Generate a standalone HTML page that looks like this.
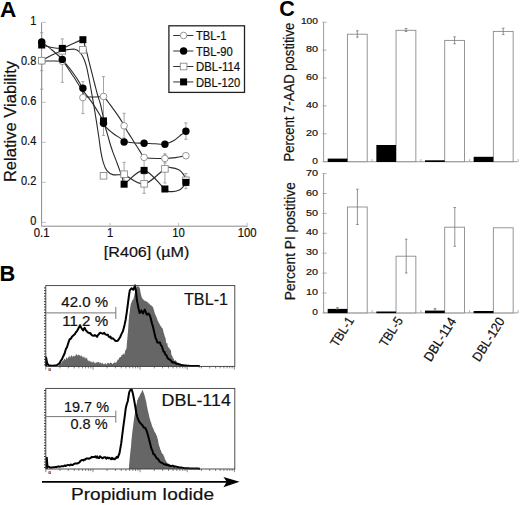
<!DOCTYPE html>
<html><head><meta charset="utf-8"><style>
html,body{margin:0;padding:0;background:#fff;}
svg{display:block;}
text{font-family:"Liberation Sans", sans-serif;fill:#111;stroke:#111;stroke-width:0.2px;}
text[font-weight="bold"]{stroke:none;fill:#000;}
</style></head><body>
<svg width="520" height="505" viewBox="0 0 520 505">
<rect width="520" height="505" fill="#fff"/>
<text x="0.1" y="17.4" font-size="22.6" font-weight="bold">A</text>
<path d="M41.6,22.6 V226.2 H247.6" fill="none" stroke="#8a8a8a" stroke-width="1"/>
<line x1="41.6" y1="222.4" x2="45.9" y2="222.4" stroke="#b0b0b0" stroke-width="0.8"/>
<text x="36.3" y="224.70000000000002" font-size="12" text-anchor="end" textLength="6.12" lengthAdjust="spacingAndGlyphs">0</text>
<line x1="41.6" y1="182.4" x2="45.9" y2="182.4" stroke="#b0b0b0" stroke-width="0.8"/>
<text x="36.3" y="184.70000000000002" font-size="12" text-anchor="end" textLength="15.30" lengthAdjust="spacingAndGlyphs">0.2</text>
<line x1="41.6" y1="142.4" x2="45.9" y2="142.4" stroke="#b0b0b0" stroke-width="0.8"/>
<text x="36.3" y="144.70000000000002" font-size="12" text-anchor="end" textLength="15.30" lengthAdjust="spacingAndGlyphs">0.4</text>
<line x1="41.6" y1="102.4" x2="45.9" y2="102.4" stroke="#b0b0b0" stroke-width="0.8"/>
<text x="36.3" y="104.7" font-size="12" text-anchor="end" textLength="15.30" lengthAdjust="spacingAndGlyphs">0.6</text>
<line x1="41.6" y1="62.400000000000006" x2="45.9" y2="62.400000000000006" stroke="#b0b0b0" stroke-width="0.8"/>
<text x="36.3" y="64.7" font-size="12" text-anchor="end" textLength="15.30" lengthAdjust="spacingAndGlyphs">0.8</text>
<line x1="41.6" y1="22.400000000000006" x2="45.9" y2="22.400000000000006" stroke="#b0b0b0" stroke-width="0.8"/>
<text x="36.3" y="24.700000000000006" font-size="12" text-anchor="end" textLength="6.12" lengthAdjust="spacingAndGlyphs">1</text>
<line x1="41.6" y1="226.2" x2="41.6" y2="222.8" stroke="#b0b0b0" stroke-width="0.8"/>
<text x="41.6" y="237.0" font-size="12.3" text-anchor="middle" textLength="15.76" lengthAdjust="spacingAndGlyphs">0.1</text>
<line x1="110.1" y1="226.2" x2="110.1" y2="222.8" stroke="#b0b0b0" stroke-width="0.8"/>
<text x="110.1" y="237.0" font-size="12.3" text-anchor="middle" textLength="6.30" lengthAdjust="spacingAndGlyphs">1</text>
<line x1="178.6" y1="226.2" x2="178.6" y2="222.8" stroke="#b0b0b0" stroke-width="0.8"/>
<text x="178.6" y="237.0" font-size="12.3" text-anchor="middle" textLength="12.61" lengthAdjust="spacingAndGlyphs">10</text>
<line x1="247.1" y1="226.2" x2="247.1" y2="222.8" stroke="#b0b0b0" stroke-width="0.8"/>
<text x="247.1" y="237.0" font-size="12.3" text-anchor="middle" textLength="18.91" lengthAdjust="spacingAndGlyphs">100</text>
<text x="103.8" y="257.2" font-size="15" textLength="85.5" lengthAdjust="spacingAndGlyphs">[R406] (µM)</text>
<text transform="translate(15.8,182.1) rotate(-90)" font-size="16.4" textLength="121.2" lengthAdjust="spacingAndGlyphs">Relative Viability</text>
<path d="M41.70,32.7 V46 M40.10,32.7 h3.2 M40.10,46 h3.2" stroke="#9a9a9a" stroke-width="0.9" fill="none"/>
<path d="M41.70,62 V70.6 M40.10,62 h3.2 M40.10,70.6 h3.2" stroke="#9a9a9a" stroke-width="0.9" fill="none"/>
<path d="M41.70,62 V89.2 M40.10,62 h3.2 M40.10,89.2 h3.2" stroke="#9a9a9a" stroke-width="0.9" fill="none"/>
<path d="M62.30,38.9 V82.3 M60.70,38.9 h3.2 M60.70,82.3 h3.2" stroke="#9a9a9a" stroke-width="0.9" fill="none"/>
<path d="M82.90,81.6 V113.6 M81.30,81.6 h3.2 M81.30,113.6 h3.2" stroke="#9a9a9a" stroke-width="0.9" fill="none"/>
<path d="M103.50,76.7 V135.4 M101.90,76.7 h3.2 M101.90,135.4 h3.2" stroke="#9a9a9a" stroke-width="0.9" fill="none"/>
<path d="M124.10,113.3 V138 M122.50,113.3 h3.2 M122.50,138 h3.2" stroke="#9a9a9a" stroke-width="0.9" fill="none"/>
<path d="M124.10,162.3 V186 M122.50,162.3 h3.2 M122.50,186 h3.2" stroke="#9a9a9a" stroke-width="0.9" fill="none"/>
<path d="M144.10,174.3 V193.3 M142.50,174.3 h3.2 M142.50,193.3 h3.2" stroke="#9a9a9a" stroke-width="0.9" fill="none"/>
<path d="M144.10,157.4 V170 M142.50,157.4 h3.2 M142.50,170 h3.2" stroke="#9a9a9a" stroke-width="0.9" fill="none"/>
<path d="M164.90,153.8 V163 M163.30,153.8 h3.2 M163.30,163 h3.2" stroke="#9a9a9a" stroke-width="0.9" fill="none"/>
<path d="M164.90,155 V183 M163.30,155 h3.2 M163.30,183 h3.2" stroke="#9a9a9a" stroke-width="0.9" fill="none"/>
<path d="M185.90,122.9 V139.2 M184.30,122.9 h3.2 M184.30,139.2 h3.2" stroke="#9a9a9a" stroke-width="0.9" fill="none"/>
<path d="M185.90,173.6 V188.7 M184.30,173.6 h3.2 M184.30,188.7 h3.2" stroke="#9a9a9a" stroke-width="0.9" fill="none"/>
<path d="M41.70,61.00 C43.42,61.00 48.57,60.95 52.00,61.00 C55.43,61.05 60.17,61.03 62.30,61.30 C64.43,61.57 63.05,60.73 64.80,62.60 C66.55,64.47 70.28,69.07 72.80,72.50 C75.32,75.93 78.30,80.45 79.90,83.20 C81.50,85.95 81.80,86.95 82.40,89.00 C83.00,91.05 82.90,94.18 83.50,95.50 C84.10,96.82 84.92,96.65 86.00,96.90 C87.08,97.15 88.50,96.98 90.00,97.00 C91.50,97.02 93.33,97.03 95.00,97.00 C96.67,96.97 98.58,96.87 100.00,96.80 C101.42,96.73 102.42,96.10 103.50,96.60 C104.58,97.10 105.03,97.97 106.50,99.80 C107.97,101.63 110.35,104.92 112.30,107.60 C114.25,110.28 116.52,113.42 118.20,115.90 C119.88,118.38 121.42,120.85 122.40,122.50 C123.38,124.15 123.42,124.55 124.10,125.80 C124.78,127.05 125.33,128.08 126.50,130.00 C127.67,131.92 129.55,134.83 131.10,137.30 C132.65,139.77 134.28,142.42 135.80,144.80 C137.32,147.18 138.82,149.52 140.20,151.60 C141.58,153.68 142.20,156.18 144.10,157.30 C146.00,158.42 149.28,158.10 151.60,158.30 C153.92,158.50 155.78,158.45 158.00,158.50 C160.22,158.55 161.97,158.75 164.90,158.60 C167.83,158.45 172.10,158.08 175.60,157.60 C179.10,157.12 184.18,156.02 185.90,155.70" fill="none" stroke="#2a2a2a" stroke-width="1.1"/>
<path d="M41.70,42.00 C43.42,43.33 48.57,47.10 52.00,50.00 C55.43,52.90 60.02,56.90 62.30,59.40 C64.58,61.90 63.75,62.02 65.70,65.00 C67.65,67.98 71.57,73.58 74.00,77.30 C76.43,81.02 78.72,84.97 80.30,87.30 C81.88,89.63 82.47,89.98 83.50,91.30 C84.53,92.62 84.95,93.15 86.50,95.20 C88.05,97.25 90.42,100.05 92.80,103.60 C95.18,107.15 99.02,113.43 100.80,116.50 C102.58,119.57 102.57,120.13 103.50,122.00 C104.43,123.87 104.73,125.75 106.40,127.70 C108.07,129.65 111.13,131.92 113.50,133.70 C115.87,135.48 118.83,137.13 120.60,138.40 C122.37,139.67 122.03,140.57 124.10,141.30 C126.17,142.03 129.67,142.48 133.00,142.80 C136.33,143.12 140.43,143.03 144.10,143.20 C147.77,143.37 151.53,143.67 155.00,143.80 C158.47,143.93 161.73,144.57 164.90,144.00 C168.07,143.43 171.30,141.93 174.00,140.40 C176.70,138.87 179.12,136.32 181.10,134.80 C183.08,133.28 185.10,131.88 185.90,131.30" fill="none" stroke="#2a2a2a" stroke-width="1.1"/>
<path d="M41.70,60.70 C43.42,59.75 48.57,56.65 52.00,55.00 C55.43,53.35 59.63,51.70 62.30,50.80 C64.97,49.90 65.88,49.85 68.00,49.60 C70.12,49.35 73.05,48.87 75.00,49.30 C76.95,49.73 78.32,50.82 79.70,52.20 C81.08,53.58 82.20,55.32 83.30,57.60 C84.40,59.88 85.42,62.75 86.30,65.90 C87.18,69.05 87.92,73.15 88.60,76.50 C89.28,79.85 89.83,82.92 90.40,86.00 C90.97,89.08 91.47,92.00 92.00,95.00 C92.53,98.00 92.88,99.73 93.60,104.00 C94.32,108.27 95.43,115.10 96.30,120.60 C97.17,126.10 98.03,131.78 98.80,137.00 C99.57,142.22 100.15,147.63 100.90,151.90 C101.65,156.17 102.30,159.48 103.30,162.60 C104.30,165.72 105.32,168.60 106.90,170.60 C108.48,172.60 110.53,173.93 112.80,174.60 C115.07,175.27 118.62,174.63 120.50,174.60 C122.38,174.57 120.17,172.83 124.10,174.40 C128.03,175.97 137.30,184.95 144.10,184.00 C150.90,183.05 160.45,171.43 164.90,168.70 C169.35,165.97 168.48,167.43 170.80,167.60 C173.12,167.77 176.68,168.57 178.80,169.70 C180.92,170.83 182.32,172.63 183.50,174.40 C184.68,176.17 185.50,179.32 185.90,180.30" fill="none" stroke="#2a2a2a" stroke-width="1.1"/>
<path d="M41.70,45.00 C43.42,45.42 48.57,46.97 52.00,47.50 C55.43,48.03 58.97,48.78 62.30,48.20 C65.63,47.62 68.57,45.38 72.00,44.00 C75.43,42.62 80.77,39.65 82.90,39.90 C85.03,40.15 84.18,43.55 84.80,45.50 C85.42,47.45 85.87,48.80 86.60,51.60 C87.33,54.40 88.27,58.53 89.20,62.30 C90.13,66.07 91.20,70.25 92.20,74.20 C93.20,78.15 94.30,82.53 95.20,86.00 C96.10,89.47 96.73,92.00 97.60,95.00 C98.47,98.00 99.57,100.83 100.40,104.00 C101.23,107.17 101.93,110.67 102.60,114.00 C103.27,117.33 103.57,120.52 104.40,124.00 C105.23,127.48 106.58,131.40 107.60,134.90 C108.62,138.40 109.63,142.17 110.50,145.00 C111.37,147.83 111.82,149.17 112.80,151.90 C113.78,154.63 115.22,158.23 116.40,161.40 C117.58,164.57 118.83,167.88 119.90,170.90 C120.97,173.92 122.10,177.32 122.80,179.50 C123.50,181.68 120.55,185.52 124.10,184.00 C127.65,182.48 137.30,169.53 144.10,170.40 C150.90,171.27 160.45,185.67 164.90,189.20 C169.35,192.73 168.48,191.42 170.80,191.60 C173.12,191.78 176.68,191.18 178.80,190.30 C180.92,189.42 182.32,187.62 183.50,186.30 C184.68,184.98 185.50,183.05 185.90,182.40" fill="none" stroke="#2a2a2a" stroke-width="1.1"/>
<circle cx="41.70" cy="61.00" r="3.3" fill="#fff" stroke="#8c8c8c" stroke-width="0.9"/>
<circle cx="62.30" cy="61.30" r="3.3" fill="#fff" stroke="#8c8c8c" stroke-width="0.9"/>
<circle cx="82.90" cy="97.60" r="3.3" fill="#fff" stroke="#8c8c8c" stroke-width="0.9"/>
<circle cx="103.50" cy="96.50" r="3.3" fill="#fff" stroke="#8c8c8c" stroke-width="0.9"/>
<circle cx="124.10" cy="125.80" r="3.3" fill="#fff" stroke="#8c8c8c" stroke-width="0.9"/>
<circle cx="144.10" cy="157.40" r="3.3" fill="#fff" stroke="#8c8c8c" stroke-width="0.9"/>
<circle cx="164.90" cy="158.50" r="3.3" fill="#fff" stroke="#8c8c8c" stroke-width="0.9"/>
<circle cx="185.90" cy="155.70" r="3.3" fill="#fff" stroke="#8c8c8c" stroke-width="0.9"/>
<circle cx="41.70" cy="42.00" r="3.7" fill="#000"/>
<circle cx="62.30" cy="59.40" r="3.7" fill="#000"/>
<circle cx="82.90" cy="88.20" r="3.7" fill="#000"/>
<circle cx="103.50" cy="123.20" r="3.7" fill="#000"/>
<circle cx="124.10" cy="142.00" r="3.7" fill="#000"/>
<circle cx="144.10" cy="143.20" r="3.7" fill="#000"/>
<circle cx="164.90" cy="144.20" r="3.7" fill="#000"/>
<circle cx="185.90" cy="131.30" r="3.7" fill="#000"/>
<rect x="38.40" y="57.40" width="6.6" height="6.6" fill="#fff" stroke="#8c8c8c" stroke-width="0.9"/>
<rect x="59.00" y="47.50" width="6.6" height="6.6" fill="#fff" stroke="#8c8c8c" stroke-width="0.9"/>
<rect x="79.60" y="46.50" width="6.6" height="6.6" fill="#fff" stroke="#8c8c8c" stroke-width="0.9"/>
<rect x="100.20" y="172.50" width="6.6" height="6.6" fill="#fff" stroke="#8c8c8c" stroke-width="0.9"/>
<rect x="120.80" y="170.90" width="6.6" height="6.6" fill="#fff" stroke="#8c8c8c" stroke-width="0.9"/>
<rect x="140.80" y="180.50" width="6.6" height="6.6" fill="#fff" stroke="#8c8c8c" stroke-width="0.9"/>
<rect x="161.60" y="165.60" width="6.6" height="6.6" fill="#fff" stroke="#8c8c8c" stroke-width="0.9"/>
<rect x="182.60" y="177.00" width="6.6" height="6.6" fill="#fff" stroke="#8c8c8c" stroke-width="0.9"/>
<rect x="38.20" y="41.50" width="7" height="7" fill="#000"/>
<rect x="58.80" y="44.90" width="7" height="7" fill="#000"/>
<rect x="79.40" y="36.20" width="7" height="7" fill="#000"/>
<rect x="100.00" y="117.40" width="7" height="7" fill="#000"/>
<rect x="120.60" y="180.70" width="7" height="7" fill="#000"/>
<rect x="140.60" y="166.90" width="7" height="7" fill="#000"/>
<rect x="161.40" y="185.50" width="7" height="7" fill="#000"/>
<rect x="182.40" y="178.90" width="7" height="7" fill="#000"/>
<rect x="168.9" y="25.8" width="75.6" height="66.6" fill="#fff" stroke="#222" stroke-width="1.3"/>
<line x1="173.2" y1="35.5" x2="193.4" y2="35.5" stroke="#333" stroke-width="1.0"/>
<circle cx="183.60" cy="35.50" r="3.3" fill="#fff" stroke="#8c8c8c" stroke-width="0.9"/>
<text x="196" y="40.3" font-size="11.9" textLength="30.50" lengthAdjust="spacingAndGlyphs">TBL-1</text>
<line x1="173.2" y1="51.0" x2="193.4" y2="51.0" stroke="#777" stroke-width="1.5"/>
<circle cx="183.60" cy="51.00" r="3.7" fill="#000"/>
<text x="196" y="55.8" font-size="11.9" textLength="36.72" lengthAdjust="spacingAndGlyphs">TBL-90</text>
<line x1="173.2" y1="66.5" x2="193.4" y2="66.5" stroke="#333" stroke-width="1.0"/>
<rect x="180.30" y="63.20" width="6.6" height="6.6" fill="#fff" stroke="#8c8c8c" stroke-width="0.9"/>
<text x="196" y="71.3" font-size="11.9" textLength="44.20" lengthAdjust="spacingAndGlyphs">DBL-114</text>
<line x1="173.2" y1="81.9" x2="193.4" y2="81.9" stroke="#777" stroke-width="1.5"/>
<rect x="180.10" y="78.40" width="7" height="7" fill="#000"/>
<text x="196" y="86.7" font-size="11.9" textLength="44.20" lengthAdjust="spacingAndGlyphs">DBL-120</text>
<text x="-0.6" y="281.3" font-size="21.8" font-weight="bold">B</text>
<path d="M44.0,364.9h1.8M44.0,362.1h1.8M44.0,359.4h1.8M44.0,356.6h1.8M44.0,353.9h1.8M44.0,351.1h1.8M44.0,348.4h1.8M44.0,345.6h1.8M44.0,342.9h1.8M44.0,340.1h1.8M44.0,337.4h1.8M44.0,334.6h1.8M44.0,331.9h1.8M44.0,329.1h1.8M44.0,326.4h1.8M44.0,323.6h1.8M44.0,320.9h1.8M44.0,318.1h1.8M44.0,315.4h1.8M44.0,312.6h1.8M44.0,309.9h1.8M44.0,307.1h1.8M44.0,304.4h1.8M44.0,301.6h1.8M44.0,298.9h1.8M44.0,296.1h1.8M44.0,293.4h1.8M44.0,290.6h1.8M44.0,287.9h1.8" stroke="#222" stroke-width="0.9" fill="none"/>
<path d="M45.8,366.4v3.2M60.0,366.4v2.0M68.3,366.4v2.0M74.2,366.4v2.0M78.8,366.4v2.0M82.5,366.4v2.0M85.6,366.4v2.0M88.4,366.4v2.0M90.8,366.4v2.0M93.0,366.4v3.2M107.1,366.4v2.0M115.4,366.4v2.0M121.3,366.4v2.0M125.9,366.4v2.0M129.6,366.4v2.0M132.8,366.4v2.0M135.5,366.4v2.0M137.9,366.4v2.0M140.1,366.4v3.2M154.3,366.4v2.0M162.6,366.4v2.0M168.5,366.4v2.0M173.1,366.4v2.0M176.8,366.4v2.0M179.9,366.4v2.0M182.7,366.4v2.0M185.1,366.4v2.0M187.2,366.4v3.2M201.4,366.4v2.0M209.7,366.4v2.0M215.6,366.4v2.0M220.2,366.4v2.0M223.9,366.4v2.0M227.1,366.4v2.0M229.8,366.4v2.0M232.2,366.4v2.0M234.4,366.4v3.2" stroke="#555" stroke-width="0.7" fill="none"/>
<text x="48.4" y="371.4" font-size="4.2" fill="#444">0</text>
<polygon points="58.4,366.4 58.4,365.8 58.9,365.2 59.3,364.9 59.8,364.1 60.2,364.4 60.7,362.8 61.1,363.3 61.6,362.4 62.0,361.0 62.5,361.8 63.0,359.9 63.5,360.7 64.0,359.1 64.6,358.8 65.1,359.4 65.6,360.2 66.1,357.6 66.6,357.4 67.2,358.3 67.7,358.9 68.2,357.3 68.7,356.3 69.2,358.1 69.7,355.1 70.2,357.7 70.8,355.9 71.3,355.5 71.8,355.4 72.3,355.9 72.8,357.4 73.3,355.3 73.9,356.5 74.4,356.6 74.9,355.7 75.4,356.1 75.9,354.4 76.5,354.2 77.0,354.5 77.5,355.8 78.0,354.9 78.5,354.6 79.0,355.5 79.5,355.2 80.0,354.8 80.5,356.5 81.0,356.2 81.5,355.0 81.9,356.3 82.4,356.4 82.9,357.7 83.3,357.5 83.8,356.3 84.3,358.8 84.7,356.2 85.2,357.4 85.7,358.9 86.1,357.3 86.6,358.7 87.0,357.6 87.5,360.0 87.9,360.6 88.4,360.3 88.8,361.7 89.3,360.2 89.8,361.6 90.2,361.4 90.7,361.4 91.2,361.2 91.7,362.5 92.1,363.0 92.6,361.6 93.1,362.4 93.5,360.6 94.0,362.7 94.5,362.6 95.0,363.7 95.4,363.3 95.9,361.8 96.4,362.2 96.9,363.1 97.3,361.4 97.8,362.7 98.3,362.0 98.8,362.0 99.3,362.0 99.7,363.8 100.2,362.4 100.7,362.8 101.2,363.1 101.6,364.2 102.1,362.5 102.6,363.3 103.1,363.5 103.5,364.3 104.0,364.2 104.5,364.3 105.0,363.1 105.4,363.4 105.9,363.3 106.4,364.4 106.9,364.6 107.3,363.0 107.8,363.0 108.3,363.1 108.8,363.0 109.2,363.5 109.7,363.7 110.2,362.9 110.7,362.3 111.2,363.1 111.7,363.0 112.1,363.4 112.6,364.2 113.1,363.6 113.5,362.9 114.0,363.0 114.4,362.9 114.9,360.9 115.3,363.3 115.8,362.6 116.2,362.6 116.7,362.1 117.2,360.5 117.6,360.2 118.0,358.9 118.5,360.3 119.0,358.0 119.5,357.6 119.9,357.5 120.4,356.9 120.9,357.0 121.4,355.6 121.9,354.9 122.4,354.9 122.8,354.3 123.3,354.6 123.8,353.1 124.2,354.9 124.7,353.2 125.2,350.8 125.6,350.2 126.0,349.6 126.5,348.8 127.1,340.9 127.7,334.2 128.2,328.4 128.6,322.0 129.1,316.1 129.6,312.6 130.0,309.4 130.4,306.6 130.9,303.4 131.4,302.8 132.0,301.1 132.5,299.9 133.1,299.8 133.6,298.3 134.1,296.2 134.5,294.8 134.9,292.5 135.4,291.2 136.0,289.5 136.6,287.3 137.2,286.7 137.8,285.9 138.4,286.5 139.0,286.8 139.6,287.8 140.1,289.8 140.5,292.3 140.9,294.1 141.4,296.2 141.9,297.5 142.4,298.4 143.0,299.0 143.5,299.7 144.0,300.4 144.5,300.7 145.1,300.5 145.6,301.2 146.2,301.4 146.7,301.4 147.1,301.7 147.6,302.2 148.1,302.5 148.5,303.2 148.9,303.7 149.4,303.5 149.9,304.5 150.4,305.1 150.9,305.6 151.4,305.5 151.9,305.9 152.4,306.4 152.9,306.9 153.5,308.7 154.1,310.8 154.7,312.9 155.1,314.0 155.6,314.9 156.1,316.2 156.5,317.6 156.9,318.1 157.4,319.8 157.9,321.1 158.4,322.1 159.0,323.1 159.5,323.9 160.0,324.7 160.5,326.0 161.1,326.3 161.6,327.4 162.2,328.3 162.7,328.5 163.1,330.3 163.6,332.6 164.1,334.1 164.5,335.4 165.0,337.0 165.6,338.5 166.1,342.4 166.7,343.5 167.2,342.8 167.7,346.0 168.2,347.6 168.8,347.6 169.3,347.7 169.8,349.4 170.3,349.5 170.9,350.5 171.4,355.0 172.0,355.4 172.5,356.5 173.0,358.7 173.6,357.9 174.1,360.2 174.7,361.0 175.2,359.9 175.7,360.5 176.2,361.2 176.8,361.5 177.3,362.9 177.8,362.5 178.3,363.1 178.8,362.7 179.3,364.5 179.9,363.6 180.4,364.0 180.9,364.4 181.4,365.0 181.9,364.4 182.3,365.2 182.8,364.7 183.3,364.8 183.8,364.9 184.2,364.5 184.7,365.0 185.2,364.9 185.6,364.9 186.1,365.0 186.6,365.1 187.1,365.2 187.5,365.4 188.0,365.5 188.5,365.6 188.9,365.6 189.4,365.7 189.9,365.7 190.3,365.8 190.8,365.9 191.3,365.9 191.7,366.0 192.2,366.0 192.7,366.1 193.1,366.2 193.6,366.2 194.1,366.3 194.5,366.3 195.0,366.4" fill="#666666"/>
<polyline points="46.1,366.0 46.1,357.6 47.1,363.0 48.6,365.5 49.5,365.6 50.4,365.6 51.3,365.7 52.2,365.8 53.2,365.7 54.2,365.6 55.3,365.6 56.3,365.5 57.3,364.8 58.4,364.2 59.4,363.4 60.7,361.0 62.0,359.2 63.3,356.2 64.6,353.5 65.8,349.2 67.1,346.9 68.4,342.7 69.7,339.2 70.8,338.8 71.8,337.0 72.8,335.9 73.8,335.0 74.8,334.2 75.9,332.3 77.0,331.1 78.0,329.3 79.0,327.3 80.0,325.5 81.6,328.2 83.1,330.4 84.6,327.8 85.9,330.4 87.2,331.8 88.2,332.6 89.3,333.2 90.3,333.0 91.3,334.6 92.4,335.6 93.6,335.8 94.8,335.1 95.9,335.7 97.1,336.9 98.0,335.1 98.9,334.3 99.8,332.9 100.7,332.8 101.9,333.3 103.0,333.8 104.2,332.8 105.4,334.4 106.6,334.9 107.8,334.6 108.7,336.5 109.6,337.3 110.5,336.6 111.4,338.6 112.6,338.2 113.7,339.0 114.9,340.5 116.2,341.1 117.6,340.8 118.9,339.1 120.2,337.0 121.1,334.9 122.0,332.9 122.9,331.3 124.2,326.6 125.6,320.0 126.8,312.1 128.0,303.0 128.9,296.0 129.8,290.4 131.6,288.2 133.3,289.8 135.1,285.4 136.0,291.6 136.9,300.1 138.7,309.3 139.6,313.1 140.5,312.1 141.4,310.4 143.1,313.4 144.0,311.2 144.9,309.6 146.7,314.6 147.6,314.5 148.5,313.5 149.4,314.7 150.3,316.8 152.0,323.5 152.9,326.4 153.8,330.2 155.6,338.1 156.5,339.8 157.4,342.6 158.7,342.6 160.0,342.4 160.9,345.3 161.8,346.1 163.6,351.7 164.5,352.0 165.4,354.8 166.3,354.9 167.6,358.1 168.9,359.1 170.1,359.8 171.3,361.1 172.5,362.5 173.7,362.2 174.9,362.7 176.1,363.7 177.2,363.8 178.2,364.0 179.3,364.4 180.3,364.6 181.4,365.1 182.3,365.2 183.3,365.3 184.2,365.4 185.2,365.5 186.1,365.6 187.1,365.7 188.0,365.8 188.9,365.8 189.8,365.9 190.8,365.9 191.7,365.9 192.6,366.0 193.5,366.0 194.5,366.0 195.4,366.0 196.3,366.1 197.2,366.1 198.2,366.1 199.1,366.2 200.0,366.2" fill="none" stroke="#000" stroke-width="2.0" stroke-linejoin="round"/>
<rect x="45.8" y="285.6" width="189.0" height="80.79999999999995" fill="none" stroke="#3a3a3a" stroke-width="0.9"/>
<path d="M45.8,312.90000000000003 H115.8 M115.8,306.90000000000003 V318.90000000000003" stroke="#777" stroke-width="1" fill="none"/>
<path d="M44.0,467.5h1.8M44.0,464.8h1.8M44.0,462.0h1.8M44.0,459.2h1.8M44.0,456.5h1.8M44.0,453.8h1.8M44.0,451.0h1.8M44.0,448.2h1.8M44.0,445.5h1.8M44.0,442.8h1.8M44.0,440.0h1.8M44.0,437.2h1.8M44.0,434.5h1.8M44.0,431.8h1.8M44.0,429.0h1.8M44.0,426.2h1.8M44.0,423.5h1.8M44.0,420.8h1.8M44.0,418.0h1.8M44.0,415.2h1.8M44.0,412.5h1.8M44.0,409.8h1.8M44.0,407.0h1.8M44.0,404.2h1.8M44.0,401.5h1.8M44.0,398.8h1.8M44.0,396.0h1.8M44.0,393.2h1.8M44.0,390.5h1.8" stroke="#222" stroke-width="0.9" fill="none"/>
<path d="M45.8,469.0v3.2M60.0,469.0v2.0M68.3,469.0v2.0M74.2,469.0v2.0M78.8,469.0v2.0M82.5,469.0v2.0M85.6,469.0v2.0M88.4,469.0v2.0M90.8,469.0v2.0M93.0,469.0v3.2M107.1,469.0v2.0M115.4,469.0v2.0M121.3,469.0v2.0M125.9,469.0v2.0M129.6,469.0v2.0M132.8,469.0v2.0M135.5,469.0v2.0M137.9,469.0v2.0M140.1,469.0v3.2M154.3,469.0v2.0M162.6,469.0v2.0M168.5,469.0v2.0M173.1,469.0v2.0M176.8,469.0v2.0M179.9,469.0v2.0M182.7,469.0v2.0M185.1,469.0v2.0M187.2,469.0v3.2M201.4,469.0v2.0M209.7,469.0v2.0M215.6,469.0v2.0M220.2,469.0v2.0M223.9,469.0v2.0M227.1,469.0v2.0M229.8,469.0v2.0M232.2,469.0v2.0M234.4,469.0v3.2" stroke="#555" stroke-width="0.7" fill="none"/>
<text x="48.4" y="474.0" font-size="4.2" fill="#444">0</text>
<polygon points="128.9,469.0 128.9,467.5 129.5,461.0 130.1,454.2 130.6,449.7 131.0,446.7 131.4,440.8 131.9,435.9 132.5,430.8 133.1,426.3 133.7,421.2 134.1,418.3 134.6,415.0 135.1,412.5 135.5,409.2 135.9,406.7 136.4,404.7 136.9,402.9 137.3,399.9 137.8,399.5 138.3,398.1 138.9,397.1 139.4,396.4 139.9,394.9 140.4,393.9 141.0,393.0 141.5,392.2 142.1,390.5 142.6,389.9 143.1,391.1 143.5,392.4 143.9,393.5 144.4,394.8 145.0,396.9 145.6,399.4 146.2,401.7 146.8,405.3 147.3,407.8 147.9,410.7 148.4,412.7 149.0,415.6 149.5,417.8 150.1,419.7 150.6,421.5 151.1,422.8 151.5,424.1 151.9,425.6 152.4,426.7 153.0,428.1 153.6,429.2 154.2,431.0 154.7,432.1 155.2,432.7 155.8,433.5 156.3,435.3 156.8,435.7 157.4,438.1 158.0,440.1 158.6,443.7 159.1,445.5 159.5,447.1 159.9,447.6 160.4,450.0 160.9,449.9 161.3,452.2 161.8,452.5 162.3,454.2 162.8,453.8 163.3,454.6 163.8,456.2 164.3,456.8 164.8,458.7 165.3,459.4 165.9,461.0 166.4,461.5 167.0,462.6 167.5,464.0 168.0,463.2 168.6,463.7 169.1,466.3 169.7,464.5 170.2,466.4 170.7,466.4 171.2,465.2 171.6,467.0 172.1,467.2 172.6,466.8 173.1,467.1 173.6,467.3 174.0,466.4 174.5,467.1 175.0,467.2 175.5,467.7 175.9,467.8 176.4,467.8 176.9,467.6 177.3,468.0 177.8,467.9 178.3,468.0 178.7,467.6 179.2,467.6 179.7,467.7 180.1,467.8 180.6,467.9 181.1,468.0 181.5,468.1 182.0,468.2 182.5,468.2 182.9,468.3 183.4,468.3 183.9,468.4 184.4,468.4 184.8,468.5 185.3,468.5 185.8,468.6 186.2,468.6 186.7,468.7 187.2,468.7 187.6,468.8 188.1,468.8 188.6,468.9 189.1,468.9 189.5,469.0 190.0,469.0" fill="#666666"/>
<polyline points="46.8,469.0 46.8,457.7 47.4,465.9 48.3,466.6 49.3,467.0 50.2,467.7 51.2,467.6 52.2,467.6 53.2,467.3 54.3,467.2 55.3,467.1 56.3,467.0 57.3,466.8 58.4,466.3 59.4,466.8 60.4,466.6 61.5,466.3 62.5,466.2 63.5,466.2 64.5,465.5 65.5,466.0 66.6,465.4 67.6,465.1 68.6,465.1 69.6,465.4 70.7,464.5 71.7,464.9 72.7,465.0 73.8,464.1 74.8,463.6 75.7,463.5 76.6,463.5 77.6,463.4 78.5,462.8 79.4,462.6 80.4,460.9 81.5,460.3 82.5,459.9 83.4,460.5 84.3,459.5 85.3,459.8 86.2,458.5 87.1,458.4 88.0,458.4 88.9,458.7 89.9,458.3 90.8,457.9 91.7,456.8 92.6,457.2 93.5,457.0 94.5,457.0 95.4,456.3 96.3,457.6 97.2,456.4 98.1,457.9 99.1,457.9 100.0,456.3 100.9,457.1 101.8,457.9 102.7,458.2 103.7,457.4 104.6,457.2 105.5,457.2 106.4,458.7 107.4,457.5 108.3,458.3 109.3,457.7 110.2,458.5 111.1,459.3 112.0,457.8 113.0,459.1 113.9,458.5 114.8,459.2 115.8,458.3 116.8,456.9 117.8,457.6 119.5,453.2 121.2,443.4 123.0,429.2 124.8,415.8 125.7,408.6 126.6,404.7 127.8,401.0 129.2,392.4 130.1,390.4 131.0,389.4 131.9,389.9 132.8,393.2 134.2,400.4 135.5,408.0 136.4,413.5 137.3,417.1 138.6,420.6 139.9,422.6 141.2,424.1 142.6,425.4 143.5,427.4 144.4,427.6 145.3,428.0 147.0,431.7 147.9,435.0 148.8,438.2 150.6,445.4 151.5,449.1 152.4,450.4 153.3,454.0 154.5,454.5 155.6,456.4 156.8,458.6 157.7,458.7 158.6,459.8 159.5,461.5 160.4,462.1 161.3,462.7 162.4,462.9 163.4,463.9 164.5,464.4 165.5,464.3 166.6,465.1 167.5,464.5 168.5,465.5 169.4,465.3 170.3,465.9 171.3,465.9 172.2,465.8 173.1,465.8 174.1,466.7 175.0,466.3 175.9,466.7 176.8,466.8 177.7,466.9 178.6,467.3 179.5,467.6 180.5,467.4 181.4,467.6 182.3,467.8 183.2,467.9 184.1,468.1 185.0,468.2 185.9,468.2 186.9,468.3 187.8,468.3 188.8,468.3 189.7,468.4 190.6,468.4 191.6,468.4 192.5,468.4 193.4,468.5 194.4,468.5 195.3,468.5 196.2,468.6 197.2,468.6 198.1,468.6 199.1,468.7 200.0,468.7" fill="none" stroke="#000" stroke-width="2.0" stroke-linejoin="round"/>
<rect x="45.8" y="388.4" width="189.0" height="80.60000000000002" fill="none" stroke="#3a3a3a" stroke-width="0.9"/>
<path d="M45.8,416.59999999999997 H115.8 M115.8,410.59999999999997 V422.59999999999997" stroke="#777" stroke-width="1" fill="none"/>
<text x="61.3" y="307.4" font-size="15" textLength="46.8" lengthAdjust="spacingAndGlyphs">42.0 %</text>
<text x="62.2" y="325.8" font-size="15" textLength="46.0" lengthAdjust="spacingAndGlyphs">11.2 %</text>
<text x="64.0" y="411.5" font-size="15" textLength="45.0" lengthAdjust="spacingAndGlyphs">19.7 %</text>
<text x="70.5" y="429.4" font-size="15" textLength="37.1" lengthAdjust="spacingAndGlyphs">0.8 %</text>
<text x="184.0" y="305.1" font-size="17.4" textLength="44.0" lengthAdjust="spacingAndGlyphs">TBL-1</text>
<text x="161.6" y="405.6" font-size="17.4" textLength="69.3" lengthAdjust="spacingAndGlyphs">DBL-114</text>
<text x="71.0" y="500" font-size="17" textLength="143" lengthAdjust="spacingAndGlyphs">Propidium Iodide</text>
<line x1="42" y1="481.8" x2="228" y2="481.8" stroke="#000" stroke-width="1.7"/>
<path d="M239.6,481.8 L223.4,476.9 L226.8,481.8 L223.4,487.3 Z" fill="#000"/>
<text x="279.2" y="15.8" font-size="21.5" font-weight="bold">C</text>
<path d="M323.6,22.3 V161.7 H517.8" fill="none" stroke="#9a9a9a" stroke-width="1"/>
<rect x="347.40" y="34.20" width="19.8" height="127.50" fill="#fff" stroke="#8a8a8a" stroke-width="0.9"/>
<rect x="327.70" y="158.60" width="19.7" height="3.40" fill="#000"/>
<rect x="396.05" y="30.30" width="19.8" height="131.40" fill="#fff" stroke="#8a8a8a" stroke-width="0.9"/>
<rect x="376.35" y="145.00" width="19.7" height="17.00" fill="#000"/>
<rect x="444.70" y="40.40" width="19.8" height="121.30" fill="#fff" stroke="#8a8a8a" stroke-width="0.9"/>
<rect x="425.00" y="160.30" width="19.7" height="1.70" fill="#000"/>
<rect x="493.35" y="31.40" width="19.8" height="130.30" fill="#fff" stroke="#8a8a8a" stroke-width="0.9"/>
<rect x="473.65" y="156.80" width="19.7" height="5.20" fill="#000"/>
<path d="M357.30,30.8 V37.2 M356.00,30.8 h2.6 M356.00,37.2 h2.6" stroke="#777" stroke-width="0.8" fill="none"/>
<path d="M406.00,28.5 V31.5 M404.70,28.5 h2.6 M404.70,31.5 h2.6" stroke="#777" stroke-width="0.8" fill="none"/>
<path d="M454.60,36.9 V43.8 M453.30,36.9 h2.6 M453.30,43.8 h2.6" stroke="#777" stroke-width="0.8" fill="none"/>
<path d="M503.20,28.2 V34.6 M501.90,28.2 h2.6 M501.90,34.6 h2.6" stroke="#777" stroke-width="0.8" fill="none"/>
<line x1="322.40000000000003" y1="161.70" x2="326.6" y2="161.70" stroke="#9a9a9a" stroke-width="0.8"/>
<text x="317.9" y="163.80" font-size="9.3" text-anchor="end" textLength="5.6" lengthAdjust="spacingAndGlyphs">0</text>
<line x1="322.40000000000003" y1="133.80" x2="326.6" y2="133.80" stroke="#9a9a9a" stroke-width="0.8"/>
<text x="317.9" y="135.90" font-size="9.3" text-anchor="end" textLength="12.0" lengthAdjust="spacingAndGlyphs">20</text>
<line x1="322.40000000000003" y1="105.90" x2="326.6" y2="105.90" stroke="#9a9a9a" stroke-width="0.8"/>
<text x="317.9" y="108.00" font-size="9.3" text-anchor="end" textLength="12.0" lengthAdjust="spacingAndGlyphs">40</text>
<line x1="322.40000000000003" y1="78.00" x2="326.6" y2="78.00" stroke="#9a9a9a" stroke-width="0.8"/>
<text x="317.9" y="80.10" font-size="9.3" text-anchor="end" textLength="12.0" lengthAdjust="spacingAndGlyphs">60</text>
<line x1="322.40000000000003" y1="50.10" x2="326.6" y2="50.10" stroke="#9a9a9a" stroke-width="0.8"/>
<text x="317.9" y="52.20" font-size="9.3" text-anchor="end" textLength="12.0" lengthAdjust="spacingAndGlyphs">80</text>
<line x1="322.40000000000003" y1="22.20" x2="326.6" y2="22.20" stroke="#9a9a9a" stroke-width="0.8"/>
<text x="317.9" y="24.30" font-size="9.3" text-anchor="end" textLength="17" lengthAdjust="spacingAndGlyphs">100</text>
<path d="M372.2,161.7v-2.6M420.9,161.7v-2.6M469.6,161.7v-2.6M518.2,161.7v-2.6" stroke="#9a9a9a" stroke-width="0.8"/>
<path d="M323.6,173.6 V312.9 H517.8" fill="none" stroke="#9a9a9a" stroke-width="1"/>
<rect x="347.40" y="207.00" width="19.8" height="105.90" fill="#fff" stroke="#8a8a8a" stroke-width="0.9"/>
<rect x="327.70" y="308.90" width="19.7" height="4.30" fill="#000"/>
<rect x="396.05" y="256.20" width="19.8" height="56.70" fill="#fff" stroke="#8a8a8a" stroke-width="0.9"/>
<rect x="376.35" y="311.50" width="19.7" height="1.70" fill="#000"/>
<rect x="444.70" y="227.20" width="19.8" height="85.70" fill="#fff" stroke="#8a8a8a" stroke-width="0.9"/>
<rect x="425.00" y="310.60" width="19.7" height="2.60" fill="#000"/>
<rect x="493.35" y="227.80" width="19.8" height="85.10" fill="#fff" stroke="#8a8a8a" stroke-width="0.9"/>
<rect x="473.65" y="311.00" width="19.7" height="2.20" fill="#000"/>
<path d="M357.40,189.2 V224.5 M356.10,189.2 h2.6 M356.10,224.5 h2.6" stroke="#777" stroke-width="0.8" fill="none"/>
<path d="M406.20,239.2 V273.0 M404.90,239.2 h2.6 M404.90,273.0 h2.6" stroke="#777" stroke-width="0.8" fill="none"/>
<path d="M454.80,207.5 V246.3 M453.50,207.5 h2.6 M453.50,246.3 h2.6" stroke="#777" stroke-width="0.8" fill="none"/>
<path d="M337.50,307.6 V309 M336.20,307.6 h2.6 M336.20,309 h2.6" stroke="#777" stroke-width="0.8" fill="none"/>
<path d="M435.00,308.5 V310 M433.70,308.5 h2.6 M433.70,310 h2.6" stroke="#777" stroke-width="0.8" fill="none"/>
<line x1="322.40000000000003" y1="312.90" x2="326.6" y2="312.90" stroke="#9a9a9a" stroke-width="0.8"/>
<text x="317.9" y="315.00" font-size="9.3" text-anchor="end" textLength="5.6" lengthAdjust="spacingAndGlyphs">0</text>
<line x1="322.40000000000003" y1="293.00" x2="326.6" y2="293.00" stroke="#9a9a9a" stroke-width="0.8"/>
<text x="317.9" y="295.10" font-size="9.3" text-anchor="end" textLength="12.0" lengthAdjust="spacingAndGlyphs">10</text>
<line x1="322.40000000000003" y1="273.10" x2="326.6" y2="273.10" stroke="#9a9a9a" stroke-width="0.8"/>
<text x="317.9" y="275.20" font-size="9.3" text-anchor="end" textLength="12.0" lengthAdjust="spacingAndGlyphs">20</text>
<line x1="322.40000000000003" y1="253.20" x2="326.6" y2="253.20" stroke="#9a9a9a" stroke-width="0.8"/>
<text x="317.9" y="255.30" font-size="9.3" text-anchor="end" textLength="12.0" lengthAdjust="spacingAndGlyphs">30</text>
<line x1="322.40000000000003" y1="233.30" x2="326.6" y2="233.30" stroke="#9a9a9a" stroke-width="0.8"/>
<text x="317.9" y="235.40" font-size="9.3" text-anchor="end" textLength="12.0" lengthAdjust="spacingAndGlyphs">40</text>
<line x1="322.40000000000003" y1="213.40" x2="326.6" y2="213.40" stroke="#9a9a9a" stroke-width="0.8"/>
<text x="317.9" y="215.50" font-size="9.3" text-anchor="end" textLength="12.0" lengthAdjust="spacingAndGlyphs">50</text>
<line x1="322.40000000000003" y1="193.50" x2="326.6" y2="193.50" stroke="#9a9a9a" stroke-width="0.8"/>
<text x="317.9" y="195.60" font-size="9.3" text-anchor="end" textLength="12.0" lengthAdjust="spacingAndGlyphs">60</text>
<line x1="322.40000000000003" y1="173.60" x2="326.6" y2="173.60" stroke="#9a9a9a" stroke-width="0.8"/>
<text x="317.9" y="175.70" font-size="9.3" text-anchor="end" textLength="12.0" lengthAdjust="spacingAndGlyphs">70</text>
<path d="M372.2,312.9v-2.6M420.9,312.9v-2.6M469.6,312.9v-2.6M518.2,312.9v-2.6" stroke="#9a9a9a" stroke-width="0.8"/>
<text transform="translate(294.3,161.6) rotate(-90)" font-size="13.8" textLength="138.9" lengthAdjust="spacingAndGlyphs">Percent 7-AAD postitive</text>
<text transform="translate(294.8,300.2) rotate(-90)" font-size="13.8" textLength="118" lengthAdjust="spacingAndGlyphs">Percent PI postitive</text>
<text transform="translate(354.4,320.3) rotate(-58)" font-size="13.2" text-anchor="end" textLength="32.5" lengthAdjust="spacingAndGlyphs">TBL-1</text>
<text transform="translate(403.4,320.3) rotate(-58)" font-size="13.2" text-anchor="end" textLength="32.5" lengthAdjust="spacingAndGlyphs">TBL-5</text>
<text transform="translate(456.6,321.0) rotate(-58)" font-size="13.2" text-anchor="end" textLength="48.8" lengthAdjust="spacingAndGlyphs">DBL-114</text>
<text transform="translate(505.1,321.0) rotate(-58)" font-size="13.2" text-anchor="end" textLength="48.8" lengthAdjust="spacingAndGlyphs">DBL-120</text>
</svg></body></html>
